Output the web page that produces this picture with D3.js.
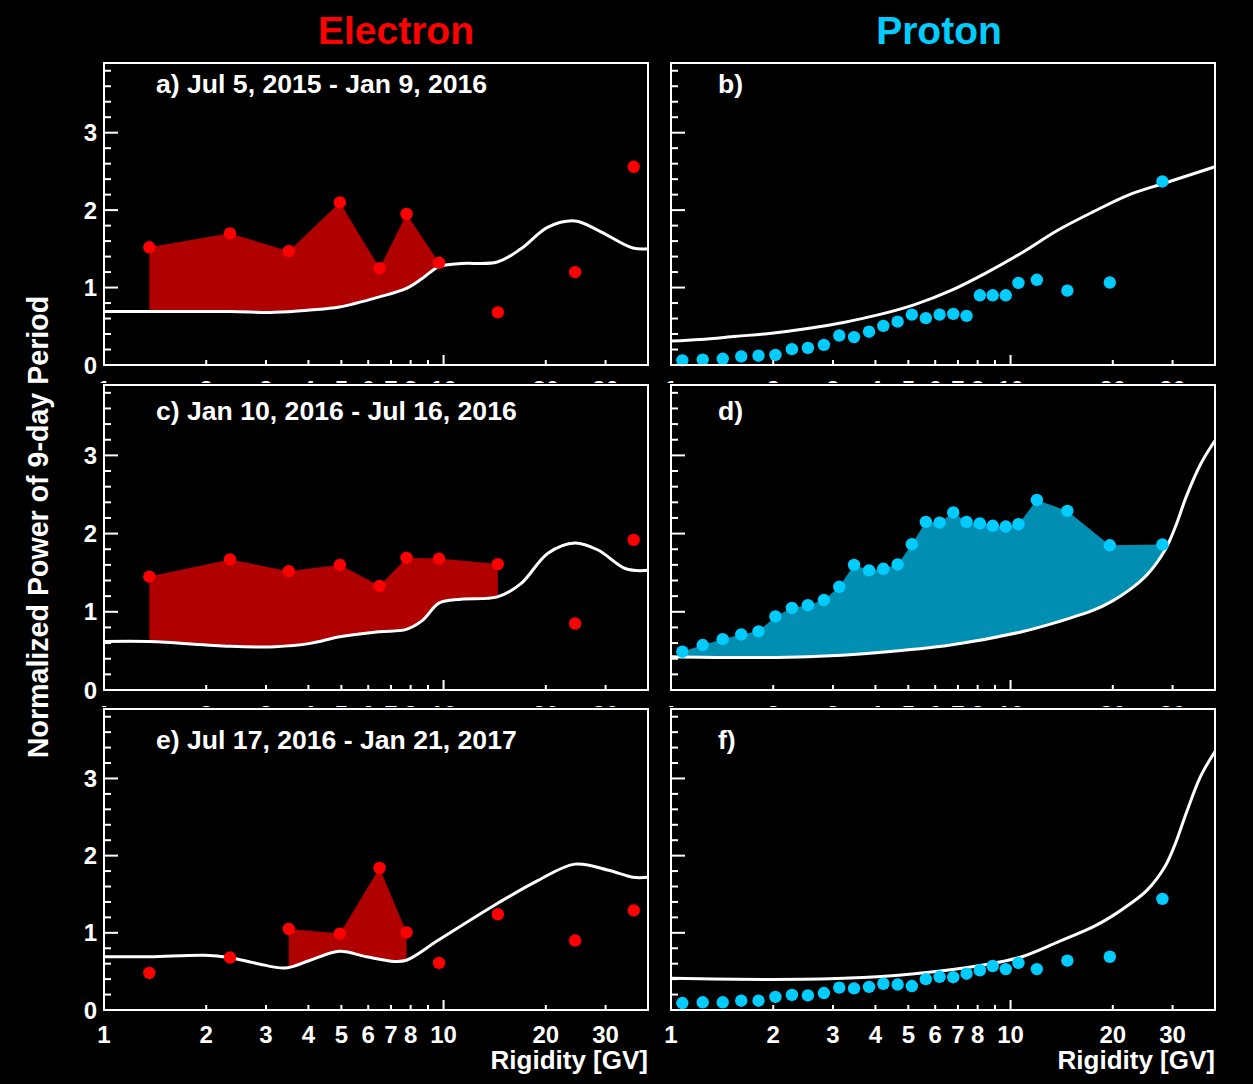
<!DOCTYPE html>
<html>
<head>
<meta charset="utf-8">
<script src="https://cdn.jsdelivr.net/npm/d3@7"></script>
<style>
  html, body { margin: 0; padding: 0; background: #000; }
  svg { display: block; }
  text { font-family: "Liberation Sans", Arial, sans-serif; font-weight: bold; fill: #fff; }
</style>
</head>
<body>
<svg id="chart" width="1253" height="1084"></svg>
<script>
// ---- Data ---------------------------------------------------------------

// Electron rigidity bins [GV] and normalized 9-day power per period
const electronRigidity = [1.36, 2.35, 3.5, 4.95, 6.48, 7.78, 9.7, 14.45, 24.4, 36.3];
const electronPowerA = [1.52, 1.70, 1.47, 2.10, 1.25, 1.95, 1.32, 0.68, 1.20, 2.56];
const electronPowerC = [1.45, 1.67, 1.52, 1.60, 1.33, 1.69, 1.68, 1.61, 0.85, 1.92];
const electronPowerE = [0.48, 0.68, 1.05, 0.99, 1.84, 1.005, 0.61, 1.24, 0.90, 1.29];

// Proton rigidity bins [GV] and normalized 9-day power per period
const protonRigidity = [1.08, 1.24, 1.42, 1.61, 1.81, 2.03, 2.27, 2.53, 2.82, 3.13,
  3.46, 3.83, 4.22, 4.65, 5.12, 5.63, 6.18, 6.78, 7.42, 8.12, 8.86, 9.68, 10.55,
  11.95, 14.7, 19.6, 28.0];
const protonPowerB = [0.06, 0.07, 0.08, 0.11, 0.12, 0.13, 0.205, 0.22, 0.26, 0.38,
  0.36, 0.43, 0.505, 0.56, 0.65, 0.605, 0.65, 0.66, 0.635, 0.90, 0.90, 0.90, 1.06,
  1.10, 0.96, 1.065, 2.37];
const protonPowerD = [0.49, 0.575, 0.65, 0.71, 0.75, 0.94, 1.05, 1.085, 1.15, 1.32,
  1.60, 1.53, 1.55, 1.605, 1.865, 2.15, 2.14, 2.27, 2.15, 2.13, 2.10, 2.09, 2.12,
  2.43, 2.29, 1.85, 1.86];
const protonPowerF = [0.09, 0.10, 0.10, 0.12, 0.12, 0.17, 0.195, 0.19, 0.22, 0.29,
  0.28, 0.30, 0.34, 0.33, 0.31, 0.40, 0.43, 0.425, 0.47, 0.515, 0.57, 0.53, 0.61,
  0.53, 0.64, 0.69, 1.44];

// Significance threshold curves (rigidity knots and values)
const thresholdRigA = [1.0, 1.36, 2.34, 3.19, 4.05, 4.94, 6.47, 7.77, 8.67, 9.69, 11.27, 14.4, 16.9, 20.3, 24.4, 28.5, 36.1, 40];
const thresholdA    = [0.69, 0.69, 0.69, 0.68, 0.71, 0.75, 0.88, 0.99, 1.12, 1.27, 1.31, 1.33, 1.50, 1.78, 1.86, 1.74, 1.51, 1.50];
const thresholdRigC = [1.0, 1.36, 2.34, 3.19, 4.05, 4.94, 6.47, 7.77, 8.67, 9.69, 11.27, 14.4, 16.9, 20.3, 24.4, 28.5, 34.4, 40];
const thresholdC    = [0.62, 0.62, 0.56, 0.553, 0.596, 0.68, 0.745, 0.775, 0.89, 1.11, 1.16, 1.19, 1.36, 1.75, 1.88, 1.79, 1.55, 1.53];
const thresholdRigE = [1.0, 1.36, 1.98, 2.34, 2.84, 3.43, 4.05, 4.94, 5.93, 7.17, 7.77, 9.69, 14.4, 19.0, 24.4, 30.6, 36.1, 40];
const thresholdE    = [0.69, 0.69, 0.71, 0.68, 0.60, 0.545, 0.645, 0.76, 0.69, 0.63, 0.645, 0.91, 1.38, 1.68, 1.89, 1.81, 1.72, 1.72];
const thresholdRigB = [1.0, 1.22, 1.555, 1.98, 2.525, 3.22, 4.10, 5.22, 6.66, 8.48, 10.8, 13.77, 17.55, 22.4, 28.5, 40];
const thresholdB    = [0.31, 0.33, 0.37, 0.41, 0.47, 0.55, 0.65, 0.78, 0.96, 1.19, 1.45, 1.74, 1.98, 2.20, 2.35, 2.56];
const thresholdRigD = [1.0, 1.555, 2.525, 4.10, 6.66, 10.8, 13.77, 17.55, 19.8, 22.4, 25.2, 28.5, 30.6, 32.9, 36.3, 40];
const thresholdD    = [0.425, 0.415, 0.425, 0.48, 0.575, 0.745, 0.87, 1.02, 1.13, 1.28, 1.47, 1.79, 2.09, 2.47, 2.89, 3.19];
const thresholdRigF = [1.0, 1.98, 3.22, 5.22, 8.48, 10.8, 13.77, 17.55, 19.8, 22.4, 25.2, 28.5, 30.6, 32.9, 36.3, 40];
const thresholdF    = [0.41, 0.395, 0.41, 0.47, 0.59, 0.69, 0.88, 1.08, 1.21, 1.37, 1.55, 1.86, 2.16, 2.55, 3.03, 3.35];

// Index ranges of points shaded as significant (first, last), null = none
const shadeA = [0, 6];
const shadeC = [0, 7];
const shadeE = [2, 5];
const shadeB = null;
const shadeD = [0, 26];
const shadeF = null;

// Axis tick labels
const xTickLabels = [1, 2, 3, 4, 5, 6, 7, 8, 10, 20, 30];
const xTickMarks = [2, 3, 4, 5, 6, 7, 8, 9, 10, 20, 30];
const yTickLabels = [0, 1, 2, 3];

const panelLabels = ["a) Jul 5, 2015 - Jan 9, 2016", "b)",
  "c) Jan 10, 2016 - Jul 16, 2016", "d)",
  "e) Jul 17, 2016 - Jan 21, 2017", "f)"];

// ---- Layout -------------------------------------------------------------
const RED = "#ff0000", RED_FILL = "#b00000";
const CYAN = "#00ccff", CYAN_FILL = "#008fb2";

const cols = [
  { x0: 104, x1: 648, padX0: 0, padX1: 659, labelX: 156 },
  { x0: 671, x1: 1215, padX0: 659, padX1: 1253, labelX: 718 }
];
const rows = [
  { y0: 63, y1: 365, labelY: 93 },
  { y0: 385, y1: 690, labelY: 420 },
  { y0: 709, y1: 1010, labelY: 749 }
];

const panels = [
  { row: 0, col: 0, rig: electronRigidity, val: electronPowerA, tr: thresholdRigA, tv: thresholdA, shade: shadeA },
  { row: 0, col: 1, rig: protonRigidity, val: protonPowerB, tr: thresholdRigB, tv: thresholdB, shade: shadeB },
  { row: 1, col: 0, rig: electronRigidity, val: electronPowerC, tr: thresholdRigC, tv: thresholdC, shade: shadeC },
  { row: 1, col: 1, rig: protonRigidity, val: protonPowerD, tr: thresholdRigD, tv: thresholdD, shade: shadeD },
  { row: 2, col: 0, rig: electronRigidity, val: electronPowerE, tr: thresholdRigE, tv: thresholdE, shade: shadeE },
  { row: 2, col: 1, rig: protonRigidity, val: protonPowerF, tr: thresholdRigF, tv: thresholdF, shade: shadeF }
];

const smooth = d3.curveCatmullRom.alpha(0.5);

const svg = d3.select("#chart");
svg.append("rect").attr("width", 1253).attr("height", 1084).attr("fill", "#000");
const defs = svg.append("defs");

panels.forEach((p, i) => {
  const c = cols[p.col], r = rows[p.row];
  const isElectron = p.col === 0;
  const dot = isElectron ? RED : CYAN;
  const shadeColor = isElectron ? RED_FILL : CYAN_FILL;

  const x = d3.scaleLog().domain([1, 40]).range([c.x0, c.x1]);
  const y = d3.scaleLinear().domain([0, 3.9]).range([r.y1, r.y0]);

  const g = svg.append("g");
  // opaque pad background
  g.append("rect")
    .attr("x", c.padX0).attr("y", r.y0 - 2)
    .attr("width", c.padX1 - c.padX0).attr("height", r.y1 - r.y0 + 60)
    .attr("fill", "#000");

  const thr = p.tr.map((R, k) => [R, p.tv[k]]);

  // shaded region between the points and the threshold curve
  if (p.shade) {
    const clipId = "above-" + i;
    defs.append("clipPath").attr("id", clipId)
      .append("path")
      .attr("d", d3.area()
        .x(d => x(d[0]))
        .y0(r.y0 - 5)
        .y1(d => y(d[1]))
        .curve(smooth)(thr));
    const pts = d3.range(p.shade[0], p.shade[1] + 1).map(k => [p.rig[k], p.val[k]]);
    g.append("path")
      .attr("clip-path", `url(#${clipId})`)
      .attr("d", d3.area()
        .x(d => x(d[0]))
        .y0(y(0))
        .y1(d => y(d[1]))(pts))
      .attr("fill", shadeColor);
  }

  // threshold curve
  g.append("path")
    .attr("d", d3.line().x(d => x(d[0])).y(d => y(d[1])).curve(smooth)(thr))
    .attr("fill", "none")
    .attr("stroke", "#fff")
    .attr("stroke-width", 3);

  // data points
  g.selectAll("circle.pt").data(p.rig.map((R, k) => [R, p.val[k]]))
    .join("circle")
    .attr("class", "pt")
    .attr("cx", d => x(d[0]))
    .attr("cy", d => y(d[1]))
    .attr("r", 6.2)
    .attr("fill", dot);

  // y ticks (left, inside)
  d3.range(0, 20).forEach(k => {
    const v = k * 0.2;
    if (v > 3.9) return;
    const major = k % 5 === 0;
    g.append("line")
      .attr("x1", c.x0).attr("x2", c.x0 + (major ? 14 : 7))
      .attr("y1", y(v)).attr("y2", y(v))
      .attr("stroke", "#fff").attr("stroke-width", 2);
  });

  // x ticks (bottom, inside)
  xTickMarks.forEach(v => {
    const major = v === 10;
    g.append("line")
      .attr("x1", x(v)).attr("x2", x(v))
      .attr("y1", r.y1).attr("y2", r.y1 - (major ? 10 : 5))
      .attr("stroke", "#fff").attr("stroke-width", 2);
  });

  // frame
  g.append("rect")
    .attr("x", c.x0).attr("y", r.y0)
    .attr("width", c.x1 - c.x0).attr("height", r.y1 - r.y0)
    .attr("fill", "none").attr("stroke", "#fff").attr("stroke-width", 2);

  // y tick labels (left column only)
  if (isElectron) {
    yTickLabels.forEach(v => {
      g.append("text")
        .attr("x", c.x0 - 7).attr("y", y(v)).attr("dy", "0.36em")
        .attr("text-anchor", "end")
        .style("font-size", "24px")
        .text(v);
    });
  }

  // x tick labels
  xTickLabels.forEach(v => {
    g.append("text")
      .attr("x", x(v)).attr("y", r.y1 + 33)
      .attr("text-anchor", "middle")
      .style("font-size", "24px")
      .text(v);
  });

  if (p.row === 2) {
    g.append("text")
      .attr("x", c.x1).attr("y", 1069)
      .attr("text-anchor", "end")
      .style("font-size", "26px")
      .text("Rigidity [GV]");
  }

  // panel label
  g.append("text")
    .attr("x", c.labelX).attr("y", r.labelY)
    .style("font-size", "26.6px")
    .text(panelLabels[i]);
});

// column titles
svg.append("text").attr("x", 396).attr("y", 44).attr("text-anchor", "middle")
  .style("font-size", "39px").style("fill", RED).text("Electron");
svg.append("text").attr("x", 939).attr("y", 44).attr("text-anchor", "middle")
  .style("font-size", "39px").style("fill", CYAN).text("Proton");

// y-axis title
svg.append("text")
  .attr("transform", "translate(48,527) rotate(-90)")
  .attr("text-anchor", "middle")
  .style("font-size", "28.6px")
  .text("Normalized Power of 9-day Period");
</script>
</body>
</html>
